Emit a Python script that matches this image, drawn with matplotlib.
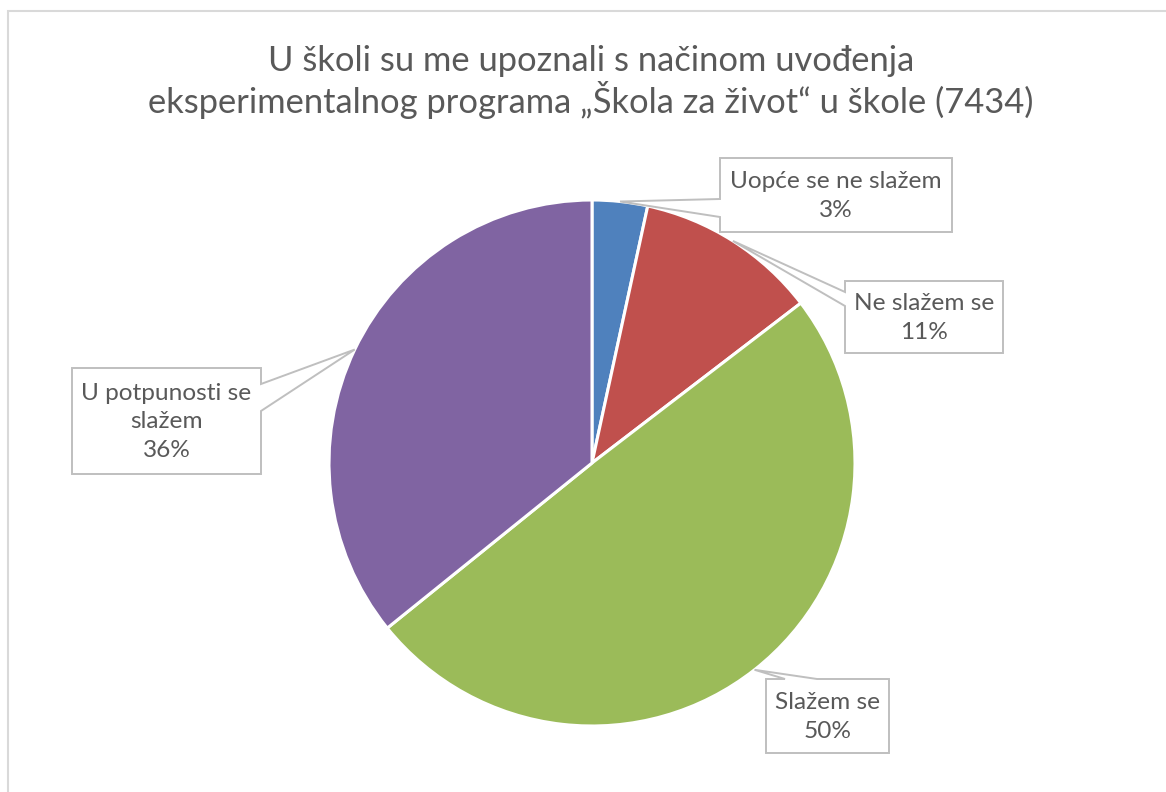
import matplotlib
matplotlib.use("Agg")
import matplotlib.pyplot as plt
from matplotlib.patches import Polygon, Rectangle
import numpy as np

plt.rcParams['font.family'] = ['Lato', 'DejaVu Sans']

# --- data ---
title = "U školi su me upoznali s načinom uvođenja\neksperimentalnog programa „Škola za život“ u škole (7434)"
categories = ["Uopće se ne slažem", "Ne slažem se", "Slažem se", "U potpunosti se\nslažem"]
shares = [3.4, 11.2, 49.6, 35.8]   # percent
colors = ["#4F81BD", "#C0504D", "#9BBB59", "#8064A2"]

# --- layout (pixel coords, origin top-left) ---
W, H = 1166, 792
cx, cy, R = 592, 463, 263
# box: x0, y0, x1, y1, side of the spike, spike start, spike end
boxes = [
    (720, 158, 952, 232, 'left', 199, 217),
    (845, 281, 1003, 353, 'left', 292, 306),
    (766, 679, 889, 753, 'top', 785, 817),
    (72, 368, 261, 474, 'right', 384, 411),
]
grey = "#BFBFBF"
txt = "#595959"

fig = plt.figure(figsize=(W / 100, H / 100), dpi=100)
ax = fig.add_axes([0, 0, 1, 1])

wedges, _ = ax.pie(shares, colors=colors, startangle=90, counterclock=False,
                   center=(cx, H - cy), radius=R,
                   wedgeprops=dict(edgecolor="white", linewidth=2.2))
ax.set_xlim(0, W)
ax.set_ylim(0, H)
ax.set_aspect('equal')
ax.axis('off')


def callout(box, tip, label):
    x0, y0, x1, y1, side, a, b = box
    tl, tr, br, bl = (x0, y0), (x1, y0), (x1, y1), (x0, y1)
    if side == 'left':
        pts = [tl, tr, br, bl, (x0, b), tip, (x0, a)]
    elif side == 'right':
        pts = [tl, tr, (x1, a), tip, (x1, b), br, bl]
    else:
        pts = [tl, (a, y0), tip, (b, y0), tr, br, bl]
    pts = [(px, H - py) for px, py in pts]
    ax.add_patch(Polygon(pts, closed=True, facecolor="white", edgecolor=grey,
                         linewidth=1.4, zorder=3))
    ax.text((x0 + x1) / 2, H - (y0 + y1) / 2 - 1, label, ha='center', va='center',
            fontsize=17.6, color=txt, linespacing=1.42, zorder=4)


for w, box, cat, v in zip(wedges, boxes, categories, shares):
    mid = np.deg2rad((w.theta1 + w.theta2) / 2)
    tip = (cx + R * np.cos(mid), cy - R * np.sin(mid))
    callout(box, tip, f"{cat}\n{v:.0f}%")

# chart frame (cut off at right and bottom like the source)
ax.add_patch(Rectangle((7.5, -20), W + 40, H - 11 + 20, fill=False,
                       edgecolor="#D9D9D9", linewidth=1.5, zorder=0))

ax.text(591, H - 82, title, ha='center', va='center', fontsize=24.8,
        color=txt, linespacing=1.14)

fig.savefig("out.png", dpi=100)
